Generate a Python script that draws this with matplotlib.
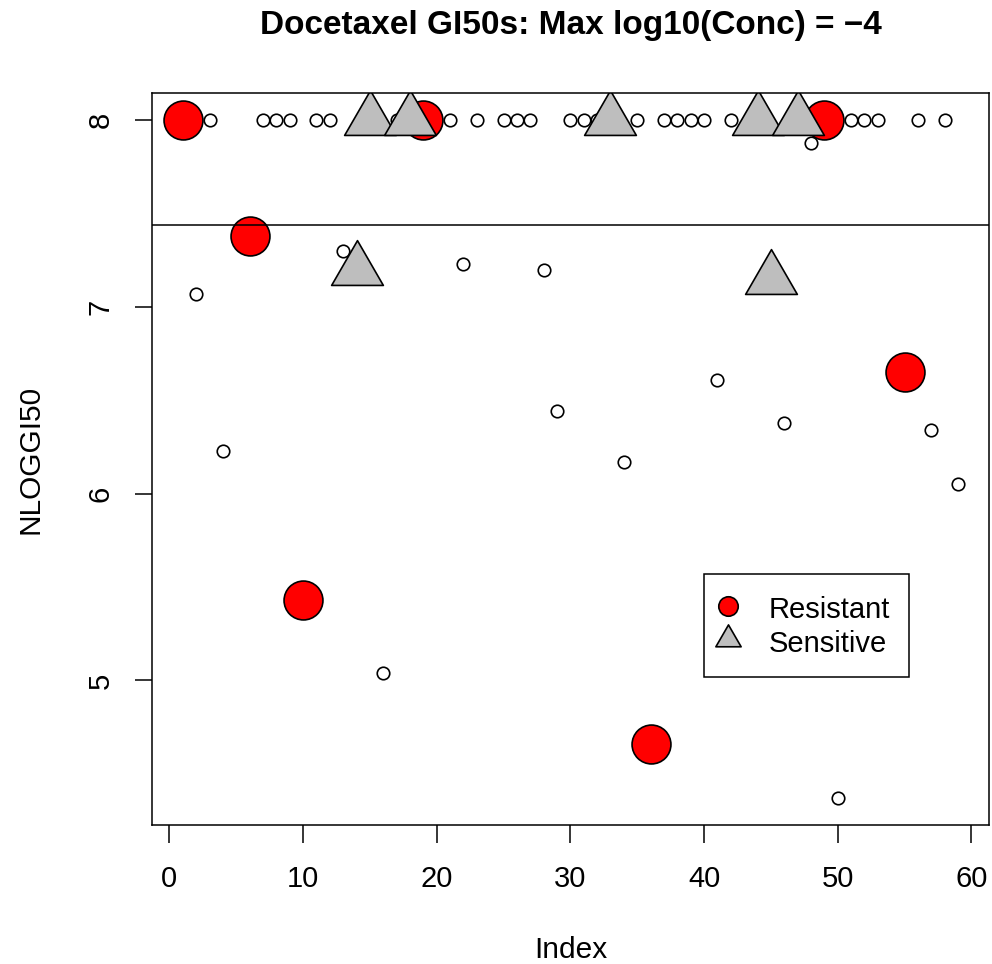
import matplotlib.pyplot as plt
from matplotlib.path import Path
from matplotlib.lines import Line2D
import numpy as np

plt.rcParams['font.family'] = ['Liberation Sans', 'DejaVu Sans']

# NLOGGI50 per cell line (index 1..59), NaN = no value
nlog = [8.00, 7.07, 8.00, 6.23, np.nan, 7.38, 8.00, 8.00, 8.00, 5.43,
        8.00, 8.00, 7.30, 7.20, 8.00, 5.04, 8.00, 8.00, 8.00, np.nan,
        8.00, 7.23, 8.00, np.nan, 8.00, 8.00, 8.00, 7.20, 6.44, 8.00,
        8.00, 8.00, 8.00, 6.17, 8.00, 4.66, 8.00, 8.00, 8.00, 8.00,
        6.61, 8.00, np.nan, 8.00, 7.15, 6.38, 8.00, 7.88, 8.00, 4.37,
        8.00, 8.00, 8.00, np.nan, 6.65, 8.00, 6.34, 8.00, 6.05]
resistant_idx = [1, 6, 10, 19, 36, 49, 55]
sensitive_idx = [14, 15, 18, 33, 44, 45, 47]
threshold = 7.44
title = 'Docetaxel GI50s: Max log10(Conc) = \u22124'

nlog = np.array(nlog)
index = np.arange(1, len(nlog) + 1)
res = np.array(resistant_idx)
sen = np.array(sensitive_idx)

# R-style triangle (pch 24), centred on its centroid
tri = Path([(0, 1.5551), (1.3468, -0.7776), (-1.3468, -0.7776), (0, 1.5551)],
           [Path.MOVETO, Path.LINETO, Path.LINETO, Path.CLOSEPOLY])

fig = plt.figure(figsize=(9.92, 9.64), dpi=100)
ax = fig.add_axes([0.153, 0.144, 0.844, 0.7595])

lw = 1.2
ax.plot(index, nlog, 'o', ms=9, mfc='none', mec='black', mew=lw)
ax.plot(res, nlog[res - 1], 'o', ms=28, mfc='red', mec='black', mew=lw)
ax.plot(sen, nlog[sen - 1], marker=tri, ls='none', ms=43, mfc='#bebebe',
        mec='black', mew=lw)
ax.axhline(threshold, color='black', lw=1.1, zorder=5)

# R default 4% axis extension
xr = index.min(), index.max()
yr = np.nanmin(nlog), np.nanmax(nlog)
ax.set_xlim(xr[0] - 0.04 * (xr[1] - xr[0]), xr[1] + 0.04 * (xr[1] - xr[0]))
ax.set_ylim(yr[0] - 0.04 * (yr[1] - yr[0]), yr[1] + 0.04 * (yr[1] - yr[0]))

ax.set_xticks([0, 10, 20, 30, 40, 50, 60])
ax.set_yticks([5, 6, 7, 8])
ax.tick_params(axis='both', length=12.6, width=1.1, labelsize=21,
               direction='out')
ax.tick_params(axis='x', pad=16)
ax.tick_params(axis='y', pad=14)
for lab in ax.get_yticklabels():
    lab.set_rotation(90)
    lab.set_va('center')
for sp in ax.spines.values():
    sp.set_linewidth(1.1)

ax.set_title(title, fontsize=24, fontweight='bold', pad=42.5)
ax.set_xlabel('Index', fontsize=21.5, va='baseline')
ax.set_ylabel('NLOGGI50', fontsize=21.5)
ax.xaxis.set_label_coords(0.5, -0.182)
ax.yaxis.set_label_coords(-0.128, 0.5)

handles = [
    Line2D([], [], ls='none', marker='o', ms=14, mfc='red', mec='black', mew=lw),
    Line2D([], [], ls='none', marker=tri, ms=21, mfc='#bebebe', mec='black', mew=lw),
]
leg = ax.legend(handles, ['Resistant', 'Sensitive'], loc='upper left',
                bbox_to_anchor=(0.66, 0.3425), borderaxespad=0, fontsize=21,
                fancybox=False, framealpha=1, edgecolor='black',
                borderpad=0.65, labelspacing=0.1, handlelength=0.35,
                handleheight=1.2, handletextpad=1.2)
leg.get_frame().set_linewidth(1.1)

fig.savefig('out.png', dpi=100)
